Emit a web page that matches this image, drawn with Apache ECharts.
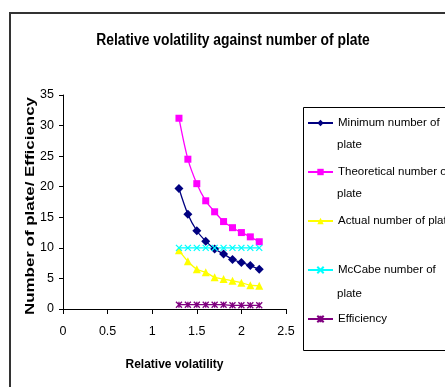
<!DOCTYPE html>
<html>
<head>
<meta charset="utf-8">
<script src="https://cdn.jsdelivr.net/npm/echarts@6/dist/echarts.min.js"></script>
<style>
  html, body { margin: 0; padding: 0; background: #fff; }
  #chart { width: 445px; height: 387px; }
</style>
</head>
<body>
<div id="chart"></div>
<script>
// relative volatility (x) and the five series
const volatility = [1.3, 1.4, 1.5, 1.6, 1.7, 1.8, 1.9, 2.0, 2.1, 2.2];
const minPlates = [19.7, 15.5, 12.8, 11.1, 9.8, 9.0, 8.1, 7.6, 7.1, 6.5];
const theoPlates = [31.2, 24.5, 20.5, 17.7, 15.9, 14.3, 13.3, 12.5, 11.8, 11.0];
const actualPlates = [9.6, 7.8, 6.5, 6.0, 5.2, 4.9, 4.6, 4.3, 3.9, 3.8];
const mccabePlates = [10, 10, 10, 10, 10, 10, 10, 10, 10, 10];
const efficiency = [0.7, 0.7, 0.7, 0.7, 0.7, 0.7, 0.6, 0.6, 0.6, 0.6];
const seriesNames = ['Minimum number of', 'Theoretical number of', 'Actual number of plate', 'McCabe number of', 'Efficiency'];

const font = "'Liberation Sans', Arial, sans-serif";
const crossPath = 'path://M0,0L10,10M10,0L0,10';
const starPath = 'path://M0,0L10,10M10,0L0,10M5,0L5,10';

function pairs(ys) {
    return volatility.map((x, i) => [x, ys[i]]);
}

let chart = echarts.init(document.getElementById('chart'));

let options = {
    animation: false,
    backgroundColor: '#fff',
    grid: { left: 63, right: 159, top: 95, bottom: 78 },
    xAxis: {
        type: 'value',
        min: 0, max: 2.5, interval: 0.5,
        name: 'Relative volatility',
        nameLocation: 'middle',
        nameGap: 50,
        nameTextStyle: { fontFamily: font, fontSize: 12, fontWeight: 'bold', color: '#000' },
        axisLine: { lineStyle: { color: '#000', width: 1 } },
        axisTick: { length: 5, lineStyle: { color: '#000' } },
        axisLabel: { margin: 16, fontFamily: font, fontSize: 12.5, color: '#000' },
        splitLine: { show: false }
    },
    yAxis: {
        type: 'value',
        min: 0, max: 35, interval: 5,
        axisLine: { show: true, lineStyle: { color: '#000', width: 1 } },
        axisTick: { show: true, length: 4, lineStyle: { color: '#000' } },
        axisLabel: { margin: 9, fontFamily: font, fontSize: 12.5, color: '#000' },
        splitLine: { show: false }
    },
    legend: {
        orient: 'vertical',
        left: 307,
        top: 117,
        padding: 0,
        itemGap: 37,
        itemWidth: 25,
        itemHeight: 8,
        textStyle: { fontFamily: font, fontSize: 11.5, color: '#000' },
        data: seriesNames
    },
    graphic: [
        {
            type: 'rect',
            shape: { x: 10, y: 13, width: 460, height: 400 },
            style: { fill: 'none', stroke: '#333', lineWidth: 2 },
            silent: true
        },
        {
            type: 'rect',
            shape: { x: 303.5, y: 107.5, width: 160, height: 243 },
            style: { fill: 'none', stroke: '#000', lineWidth: 1 },
            silent: true
        },
        {
            type: 'text', x: 233, y: 41, scaleX: 0.867,
            style: {
                text: 'Relative volatility against number of plate',
                font: 'bold 16px ' + font, fill: '#000',
                textAlign: 'center', textVerticalAlign: 'middle'
            }
        },
        {
            type: 'text', x: 30, y: 206, rotation: Math.PI / 2, scaleX: 1.3,
            style: {
                text: 'Number of plate/ Efficiency',
                font: 'bold 13px ' + font, fill: '#000',
                textAlign: 'center', textVerticalAlign: 'middle'
            }
        },
        { type: 'text', x: 337, y: 145, style: { text: 'plate', font: '11.5px ' + font, fill: '#000', textVerticalAlign: 'middle' } },
        { type: 'text', x: 337, y: 194, style: { text: 'plate', font: '11.5px ' + font, fill: '#000', textVerticalAlign: 'middle' } },
        { type: 'text', x: 337, y: 294, style: { text: 'plate', font: '11.5px ' + font, fill: '#000', textVerticalAlign: 'middle' } }
    ],
    series: [
        {
            name: seriesNames[0],
            type: 'line',
            smooth: 0.3,
            data: pairs(minPlates),
            symbol: 'diamond', symbolSize: 9,
            lineStyle: { color: '#000080', width: 1.3 },
            itemStyle: { color: '#000080' }
        },
        {
            name: seriesNames[1],
            type: 'line',
            smooth: 0.3,
            data: pairs(theoPlates),
            symbol: 'rect', symbolSize: 7,
            lineStyle: { color: '#ff00ff', width: 1.3 },
            itemStyle: { color: '#ff00ff' }
        },
        {
            name: seriesNames[2],
            type: 'line',
            smooth: 0.3,
            data: pairs(actualPlates),
            symbol: 'triangle', symbolSize: 8,
            lineStyle: { color: '#ffff00', width: 1.3 },
            itemStyle: { color: '#ffff00' }
        },
        {
            name: seriesNames[3],
            type: 'line',
            smooth: 0.3,
            data: pairs(mccabePlates),
            symbol: crossPath, symbolSize: 6,
            lineStyle: { color: '#00ffff', width: 1.3 },
            itemStyle: { color: 'none', borderColor: '#00ffff', borderWidth: 1.3 }
        },
        {
            name: seriesNames[4],
            type: 'line',
            smooth: 0.3,
            data: pairs(efficiency),
            symbol: starPath, symbolSize: 6,
            lineStyle: { color: '#800080', width: 1.3 },
            itemStyle: { color: 'none', borderColor: '#800080', borderWidth: 1.3 }
        }
    ]
};

chart.setOption(options);
</script>
</body>
</html>
